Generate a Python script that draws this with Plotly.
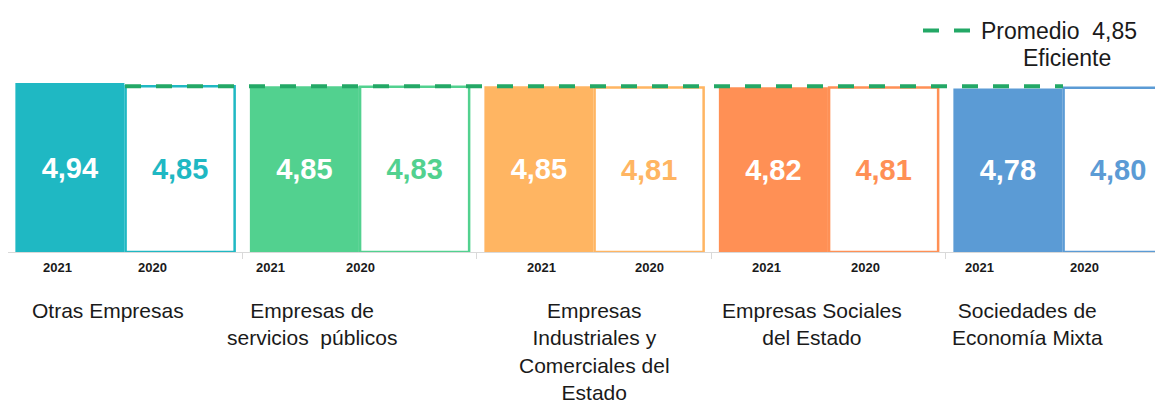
import numpy as np
import plotly.graph_objects as go

categories = ["Otras Empresas", "Empresas de<br>servicios  públicos",
              "Empresas<br>Industriales y<br>Comerciales del<br>Estado",
              "Empresas Sociales<br>del Estado", "Sociedades de<br>Economía Mixta"]
values_2021 = [4.94, 4.85, 4.85, 4.82, 4.78]
values_2020 = [4.85, 4.83, 4.81, 4.81, 4.80]
year_labels = ["2021", "2020"]
promedio = 4.85
promedio_label = "Promedio  4,85"
promedio_label2 = "Eficiente"

colors = ["#1FB8C3", "#52D18F", "#FFB562", "#FF9055", "#5B9BD5"]
line_color = "#23A866"
FONT = "Liberation Sans, Arial, sans-serif"

# layout helpers: page has an 8px body margin, so figure px = screen px - 8
OFF = 8
W, H = 1163 - OFF, 400 - OFF
BASE = 252            # screen y of the baseline
PLOT_H = BASE - OFF   # plot area height in figure px
PX0, PITCH = 125.0, 234.5
def px2x(px):
    return (px - PX0) / PITCH
def py2paper(py):
    return (BASE - py) / PLOT_H

idx = np.arange(len(categories))
off = 0.235
bw = 0.465

fig = go.Figure()
fig.add_trace(go.Bar(
    x=idx - off, y=values_2021, width=bw,
    marker=dict(color=colors, line=dict(width=0)),
    texttemplate="<b>%{y:.2f}</b>", textposition="inside", insidetextanchor="middle",
    textangle=0, constraintext="none",
    textfont=dict(family=FONT, size=29, color="white"),
    showlegend=False, hoverinfo="skip"))
fig.add_trace(go.Bar(
    x=idx + off, y=values_2020, width=bw,
    marker=dict(color="white", line=dict(color=colors, width=2.5)),
    texttemplate="<b>%{y:.2f}</b>", textposition="inside", insidetextanchor="middle",
    textangle=0, constraintext="none",
    textfont=dict(family=FONT, size=29, color=colors),
    showlegend=False, hoverinfo="skip"))
fig.add_trace(go.Scatter(
    x=[idx[0], idx[-1]], y=[promedio, promedio], mode="lines",
    line=dict(color=line_color, width=4, dash="16px,15px"),
    name=promedio_label, showlegend=True, hoverinfo="skip"))

annotations = []
year_px = [57, 152, 270, 360, 541, 649, 766, 865, 979, 1084]
for k, px in enumerate(year_px):
    annotations.append(dict(
        x=px2x(px), xref="x", y=py2paper(267), yref="paper",
        text="<b>%s</b>" % year_labels[k % 2], showarrow=False,
        xanchor="center", yanchor="middle",
        font=dict(family=FONT, size=13, color="#1a1a1a")))
cat_px = [108, 312, 594, 812, 1027]
for c, px in zip(categories, cat_px):
    annotations.append(dict(
        x=px2x(px), xref="x", y=py2paper(297), yref="paper",
        text=c, showarrow=False, xanchor="center", yanchor="top",
        align="center",
        font=dict(family=FONT, size=21, color="#1a1a1a")))
annotations.append(dict(
    x=(1067 - OFF) / W, xref="paper", y=py2paper(58), yref="paper",
    text=promedio_label2, showarrow=False, xanchor="center", yanchor="middle",
    font=dict(family=FONT, size=23, color="#1a1a1a")))

fig.update_layout(
    width=W, height=H,
    margin=dict(l=0, r=0, t=0, b=H - PLOT_H),
    paper_bgcolor="white", plot_bgcolor="white",
    separators=",.",
    barmode="overlay",
    font=dict(family=FONT, color="#1a1a1a"),
    xaxis=dict(range=[px2x(OFF), px2x(1163)], showgrid=False, zeroline=False,
               showline=True, linecolor="#D9D9D9", linewidth=1,
               tickmode="array", tickvals=list(np.arange(-0.5, len(categories) + 0.5, 1)),
               ticks="outside", ticklen=6, tickcolor="#D9D9D9",
               showticklabels=False, fixedrange=True),
    yaxis=dict(range=[0, PLOT_H / 34.2], visible=False, fixedrange=True),
    legend=dict(x=(918 - OFF) / W, xanchor="left", y=py2paper(OFF + 1), yanchor="top",
                bgcolor="rgba(0,0,0,0)", font=dict(family=FONT, size=23, color="#1a1a1a"),
                itemwidth=53),
    annotations=annotations,
    showlegend=True,
)
fig.write_html("out.html")
